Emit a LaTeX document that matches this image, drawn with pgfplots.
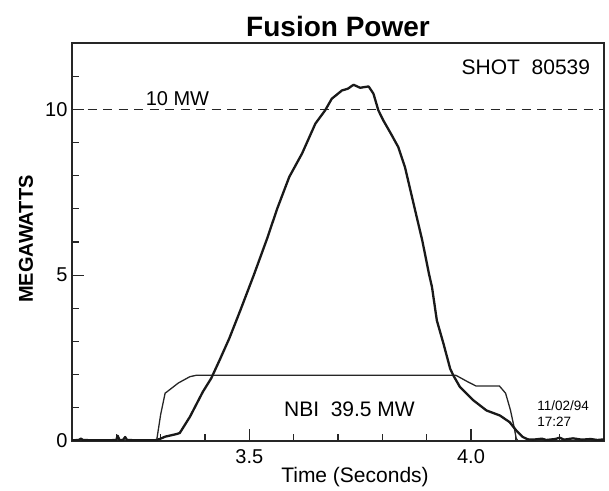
\documentclass[border=0pt]{standalone}
\usepackage{pgfplots}
\pgfplotsset{compat=1.18}
\usepackage{fontspec}
\setmainfont{Liberation Sans}

\pgfplotstableread{
x y
3.100 0.02
3.115 0.03
3.120 0.07
3.125 0.03
3.150 0.02
3.180 0.02
3.200 0.03
3.203 0.16
3.207 0.03
3.215 0.03
3.220 0.12
3.224 0.03
3.250 0.02
3.287 0.02
3.298 0.06
3.310 0.13
3.336 0.21
3.343 0.24
3.366 0.73
3.395 1.48
3.414 1.89
3.433 2.44
3.455 3.10
3.480 3.95
3.510 5.00
3.540 6.10
3.563 7.01
3.590 7.96
3.619 8.67
3.649 9.57
3.671 9.97
3.686 10.32
3.709 10.57
3.722 10.62
3.735 10.74
3.750 10.65
3.769 10.69
3.780 10.47
3.791 9.97
3.802 9.67
3.820 9.25
3.836 8.86
3.851 8.26
3.873 7.01
3.890 6.05
3.905 5.05
3.912 4.64
3.923 3.63
3.938 2.93
3.953 2.18
3.960 1.98
3.975 1.63
4.005 1.23
4.035 0.92
4.065 0.77
4.087 0.57
4.102 0.32
4.117 0.12
4.128 0.05
4.140 0.04
4.160 0.07
4.170 0.03
4.190 0.06
4.200 0.10
4.210 0.04
4.230 0.08
4.250 0.04
4.270 0.06
4.285 0.03
4.300 0.05
}\fusion

\pgfplotstableread{
x y
3.100 0.0
3.285 0.0
3.291 0.02
3.300 0.80
3.310 1.44
3.340 1.75
3.366 1.94
3.380 1.98
3.966 1.98
3.992 1.79
4.011 1.66
4.064 1.66
4.078 1.44
4.089 0.93
4.097 0.43
4.102 0.08
4.106 0.0
4.300 0.0
}\nbi

\begin{document}
\begin{tikzpicture}
\begin{axis}[
  width=532pt, height=398pt, scale only axis,
  xmin=3.1, xmax=4.3, ymin=0, ymax=12,
  axis line style={line width=1.4pt, black!85},
  xtick={3.5,4.0}, xticklabels={3.5,4.0},
  minor xtick={3.2,3.3,3.4,3.6,3.7,3.8,3.9,4.1,4.2},
  ytick={0,5,10}, yticklabels={0,5,10},
  minor ytick={1,2,3,4,6,7,8,9,11},
  tick align=inside, tick pos=left,
  major tick length=12pt, minor tick length=7pt,
  major tick style={line width=1.1pt, black!85},
  minor tick style={line width=1.1pt, black!85},
  ticklabel style={font=\fontsize{20}{24}\selectfont},
  xticklabel style={yshift=-5pt},
  yticklabel style={xshift=-1pt},
]
\addplot[black!85, line width=1.2pt, dash pattern=on 9pt off 6.5pt] coordinates {(3.1,10) (4.3,10)};
\addplot[black!85, line width=1.3pt] table {\nbi};
\addplot[black!90, line width=2.3pt, line join=round] table {\fusion};
\node[anchor=south west, font=\fontsize{20}{24}\selectfont, inner sep=0pt] at (axis cs:3.266,10.1) {10 MW};
\node[anchor=east, font=\fontsize{21}{25}\selectfont, inner sep=0pt] at (axis cs:4.269,11.27) {SHOT\ \ 80539};
\node[anchor=west, font=\fontsize{21}{25}\selectfont, inner sep=0pt] at (axis cs:3.578,0.95) {NBI\ \ 39.5 MW};
\node[anchor=west, align=left, font=\fontsize{13.5}{16}\selectfont, inner sep=0pt] at (axis cs:4.149,0.83) {11/02/94\\17:27};
\end{axis}
\node[anchor=base, font=\fontsize{28}{32}\selectfont\bfseries] at ([yshift=6.7pt]current axis.north) {Fusion Power};
\node[rotate=90, font=\fontsize{20}{24}\selectfont\bfseries] at ([xshift=-46pt,yshift=3pt]current axis.west) {MEGAWATTS};
\node[font=\fontsize{21}{25}\selectfont] at ([xshift=17pt,yshift=-36pt]current axis.south) {Time (Seconds)};
\path ([xshift=-72pt,yshift=-46pt]current axis.south west) rectangle ([xshift=5pt,yshift=43pt]current axis.north east);
\end{tikzpicture}
\end{document}
